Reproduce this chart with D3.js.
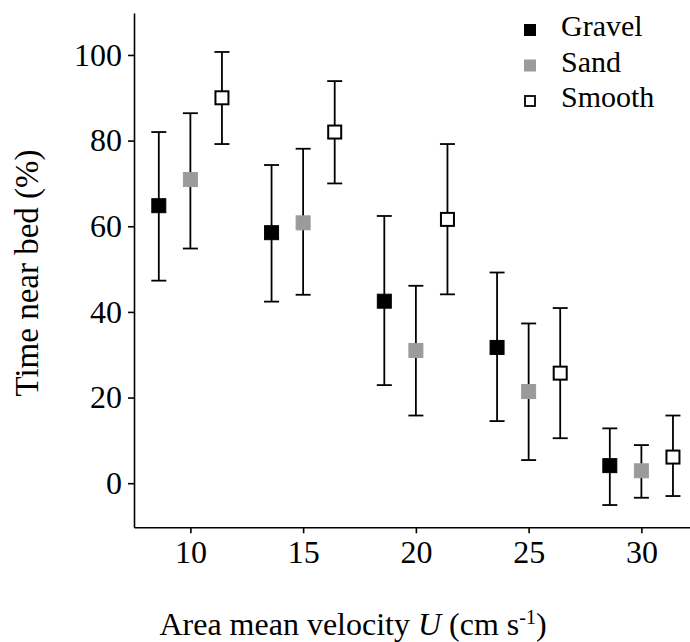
<!DOCTYPE html>
<html>
<head>
<meta charset="utf-8">
<script src="https://cdn.jsdelivr.net/npm/d3@7"></script>
<style>
  html, body { margin: 0; padding: 0; background: #fff; }
  svg { display: block; }
</style>
</head>
<body>
<svg id="chart" width="690" height="642"></svg>
<script>
// ---- data ----
const velocity = [10, 15, 20, 25, 30];
const seriesNames = ["Gravel", "Sand", "Smooth"];
const gravelMean = [64.8, 58.5, 42.5, 31.7, 4.1];
const gravelLow  = [47.3, 42.4, 22.9, 14.5, -5.1];
const gravelHigh = [82.0, 74.3, 62.4, 49.2, 12.8];
const sandMean   = [70.9, 60.8, 31.0, 21.4, 2.9];
const sandLow    = [54.8, 44.0, 15.8, 5.4, -3.4];
const sandHigh   = [86.4, 78.1, 46.1, 37.3, 8.9];
const smoothMean = [90.0, 82.0, 61.6, 25.7, 6.1];
const smoothLow  = [79.2, 70.0, 44.1, 10.5, -3.0];
const smoothHigh = [100.7, 93.9, 79.2, 40.9, 15.8];
const xTicks = [10, 15, 20, 25, 30];
const yTicks = [0, 20, 40, 60, 80, 100];

// ---- pick an installed serif font ----
function pickFont(cands) {
  const c = document.createElement("canvas").getContext("2d");
  const probe = "Time near bed Gravel 0123456789";
  const widthOf = f => { c.font = "40px " + f; return c.measureText(probe).width; };
  const baseMono = widthOf("monospace"), baseSans = widthOf("sans-serif");
  for (const f of cands) {
    const wm = widthOf(`"${f}", monospace`), ws = widthOf(`"${f}", sans-serif`);
    if (wm !== baseMono || ws !== baseSans) return `"${f}"`;
  }
  return "serif";
}
const FONT = pickFont(["Liberation Serif", "Times New Roman", "Tinos", "DejaVu Serif", "Noto Serif", "FreeSerif"]);

// ---- layout ----
const svg = d3.select("#chart");
const plotLeft = 134, plotRight = 691, plotTop = 13, plotBottom = 527.3;
const x = d3.scaleLinear().domain([7.5, 32.2]).range([plotLeft, plotRight]);
const y = d3.scaleLinear().domain([-10.3, 109.8]).range([plotBottom, plotTop]);
const dodge = { Gravel: -1.4, Sand: 0, Smooth: 1.4 };
const styles = {
  Gravel: { fill: "#000", stroke: "#000" },
  Sand:   { fill: "#9b9b9b", stroke: "#9b9b9b" },
  Smooth: { fill: "#fff", stroke: "#000" }
};
const seriesData = {
  Gravel: [gravelMean, gravelLow, gravelHigh],
  Sand:   [sandMean, sandLow, sandHigh],
  Smooth: [smoothMean, smoothLow, smoothHigh]
};

const font = 32;

// axes
const yAxis = d3.axisLeft(y).tickValues(yTicks).tickSize(6).tickSizeOuter(0).tickPadding(7);
const gy = svg.append("g").attr("transform", `translate(${plotLeft},0)`).call(yAxis);
const xAxis = d3.axisBottom(x).tickValues(xTicks).tickSize(6).tickSizeOuter(0).tickPadding(7);
const gx = svg.append("g").attr("transform", `translate(0,${plotBottom})`).call(xAxis);
[gx, gy].forEach(g => {
  g.attr("font-family", null).attr("font-size", null);
  g.selectAll("path.domain").attr("stroke", "#000").attr("stroke-width", 1.6);
  g.selectAll(".tick line").attr("stroke", "#000").attr("stroke-width", 1.6);
  g.selectAll(".tick text").style("font-family", FONT)
    .style("font-size", font + "px").attr("fill", "#000");
});
gy.selectAll(".tick text").attr("x", -12);

// data marks
const markSize = 15, cap = 15;
seriesNames.forEach(name => {
  const [m, lo, hi] = seriesData[name];
  const pts = velocity.map((v, i) => ({ v, m: m[i], lo: lo[i], hi: hi[i] }));
  const g = svg.append("g").attr("class", "series-" + name);
  const cx = d => x(d.v + dodge[name]);
  g.selectAll("line.err").data(pts).join("line").attr("class", "err")
    .attr("x1", cx).attr("x2", cx).attr("y1", d => y(d.lo)).attr("y2", d => y(d.hi))
    .attr("stroke", "#000").attr("stroke-width", 1.8);
  g.selectAll("line.capHi").data(pts).join("line").attr("class", "capHi")
    .attr("x1", d => cx(d) - cap / 2).attr("x2", d => cx(d) + cap / 2)
    .attr("y1", d => y(d.hi)).attr("y2", d => y(d.hi))
    .attr("stroke", "#000").attr("stroke-width", 1.8);
  g.selectAll("line.capLo").data(pts).join("line").attr("class", "capLo")
    .attr("x1", d => cx(d) - cap / 2).attr("x2", d => cx(d) + cap / 2)
    .attr("y1", d => y(d.lo)).attr("y2", d => y(d.lo))
    .attr("stroke", "#000").attr("stroke-width", 1.8);
  const st = styles[name];
  const inner = name === "Smooth" ? markSize - 2 : markSize - 1;
  g.selectAll("rect").data(pts).join("rect")
    .attr("x", d => cx(d) - inner / 2).attr("y", d => y(d.m) - inner / 2)
    .attr("width", inner).attr("height", inner)
    .attr("fill", st.fill).attr("stroke", st.stroke)
    .attr("stroke-width", name === "Smooth" ? 2 : 1);
});

// legend
const lg = svg.append("g").attr("class", "legend");
seriesNames.forEach((name, i) => {
  const cy = 30 + i * 35.5;
  const st = styles[name];
  const s = name === "Smooth" ? 10 : 11;
  lg.append("rect").attr("x", 530 - s / 2).attr("y", cy - s / 2)
    .attr("width", s).attr("height", s)
    .attr("fill", st.fill).attr("stroke", st.stroke)
    .attr("stroke-width", name === "Smooth" ? 1.8 : 1);
  lg.append("text").attr("x", 561).attr("y", cy + 6)
    .style("font-family", FONT).style("font-size", "30px").attr("fill", "#000").text(name);
});

// axis titles
svg.append("text")
  .attr("transform", `translate(38,${273}) rotate(-90)`)
  .attr("text-anchor", "middle")
  .style("font-family", FONT).style("font-size", "33px").attr("fill", "#000")
  .text("Time near bed (%)");

const xt = svg.append("text").attr("x", 353).attr("y", 635)
  .attr("text-anchor", "middle")
  .style("font-family", FONT).style("font-size", font + "px").attr("fill", "#000");
xt.append("tspan").text("Area mean velocity ");
xt.append("tspan").style("font-style", "italic").text("U");
xt.append("tspan").text(" (cm s");
xt.append("tspan").attr("dy", -11).style("font-size", "20px").text("-1");
xt.append("tspan").attr("dy", 11).text(")");
</script>
</body>
</html>
